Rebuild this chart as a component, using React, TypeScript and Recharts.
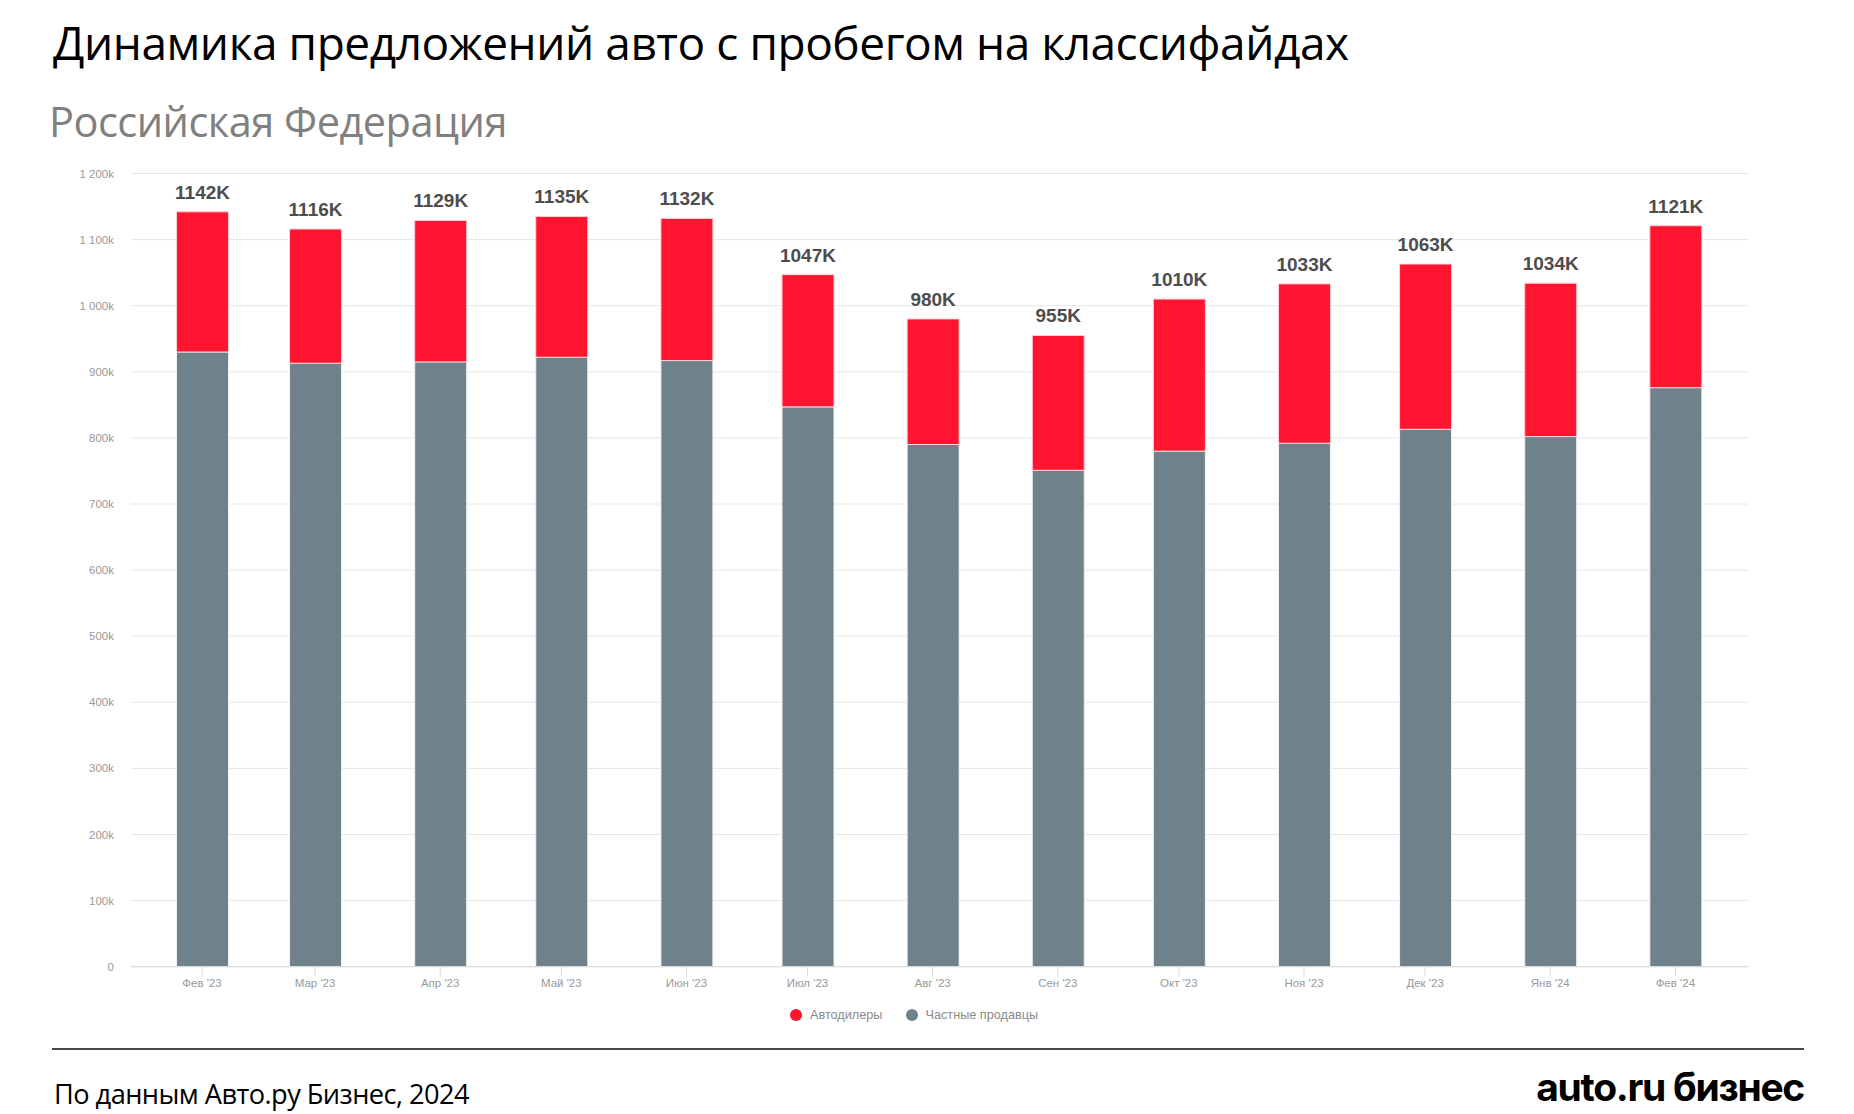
import React from 'react';
import { BarChart, Bar, XAxis, YAxis, CartesianGrid, LabelList } from 'recharts';

const months = ['2023-02-01', '2023-03-01', '2023-04-01', '2023-05-01', '2023-06-01', '2023-07-01', '2023-08-01', '2023-09-01', '2023-10-01', '2023-11-01', '2023-12-01', '2024-01-01', '2024-02-01'];
const monthLabels = ["Фев '23", "Мар '23", "Апр '23", "Май '23", "Июн '23", "Июл '23", "Авг '23", "Сен '23", "Окт '23", "Ноя '23", "Дек '23", "Янв '24", "Фев '24"];
// thousands of listings
const privateSellers = [930, 913, 915, 922, 917, 847, 790, 751, 780, 792, 813, 802, 876];
const dealers = [212, 203, 214, 213, 215, 200, 190, 204, 230, 241, 250, 232, 245];
const yTicks = [0, 100, 200, 300, 400, 500, 600, 700, 800, 900, 1000, 1100, 1200];

const seriesNames = { dealers: 'Автодилеры', private: 'Частные продавцы' };
const colors = { dealers: '#FF1530', private: '#6F818A' };

const DAY = 86400000;
const t0 = Date.parse(months[0]);
const data = months.map((m, i) => ({
  day: Math.round((Date.parse(m) - t0) / DAY),
  label: monthLabels[i],
  private: privateSellers[i],
  dealers: dealers[i],
  total: privateSellers[i] + dealers[i],
}));
const xTicks = data.map((d) => d.day);
const labelByDay: Record<number, string> = {};
data.forEach((d) => { labelByDay[d.day] = d.label; });

const fmtY = (v: number) => {
  if (v === 0) return '0';
  if (v >= 1000) return `${Math.floor(v / 1000)} ${String(v % 1000).padStart(3, '0')}k`;
  return `${v}k`;
};

const chartFont = '"Liberation Sans", Arial, sans-serif';

export default function App() {
  return (
    <div style={{ position: 'absolute', left: 0, top: 0, width: 1854, height: 1114, background: '#fff', overflow: 'hidden' }}>
      <div style={{ position: 'absolute', left: 53, top: 11, fontFamily: '"Open Sans", sans-serif', fontSize: 46, color: '#000', whiteSpace: 'nowrap', letterSpacing: -0.45 }}>
        Динамика предложений авто с пробегом на классифайдах
      </div>
      <div style={{ position: 'absolute', left: 49, top: 93, fontFamily: '"Open Sans", sans-serif', fontSize: 41.5, color: '#808080', whiteSpace: 'nowrap', letterSpacing: -0.5 }}>
        Российская Федерация
      </div>

      <div style={{ position: 'absolute', left: 0, top: 0 }}>
        <BarChart width={1854} height={1114} data={data} margin={{ top: 173.5, right: 106, bottom: 107.3, left: 0 }}>
          <CartesianGrid vertical={false} stroke="#e6e6e6" />
          <XAxis
            dataKey="day"
            type="number"
            scale="linear"
            domain={[-17.6, 383]}
            ticks={xTicks}
            tickFormatter={(v: number) => labelByDay[v] ?? ''}
            height={40}
            tickSize={10}
            tickMargin={2}
            axisLine={{ stroke: '#d8d8d8' }}
            tickLine={{ stroke: '#d8d8d8' }}
            tick={{ fill: '#999', fontSize: 11.5, fontFamily: chartFont }}
            interval={0}
            allowDataOverflow
          />
          <YAxis
            width={131}
            domain={[0, 1200]}
            ticks={yTicks}
            tickFormatter={fmtY}
            axisLine={false}
            tickLine={false}
            tickSize={0}
            tickMargin={17}
            tick={{ fill: '#999', fontSize: 11.5, fontFamily: chartFont }}
          />
          <Bar dataKey="private" stackId="a" fill={colors.private} stroke="#f2f2f2" strokeWidth={1} barSize={52} isAnimationActive={false} name={seriesNames.private} />
          <Bar dataKey="dealers" stackId="a" fill={colors.dealers} stroke="#ffd0d5" strokeWidth={1} barSize={52} isAnimationActive={false} name={seriesNames.dealers}>
            <LabelList
              dataKey="total"
              position="top"
              offset={13}
              formatter={(v: number) => `${v}K`}
              style={{ fill: '#4d4d4d', fontSize: 19, fontWeight: 700, fontFamily: chartFont }}
            />
          </Bar>
        </BarChart>
      </div>

      <div style={{ position: 'absolute', left: 790, top: 1008, display: 'flex', alignItems: 'center', fontFamily: chartFont, fontSize: 12.7, color: '#8a8a8a', whiteSpace: 'nowrap' }}>
        {(['dealers', 'private'] as const).map((k, i) => (
          <div key={k} style={{ display: 'flex', alignItems: 'center', marginRight: i === 0 ? 23 : 0 }}>
            <span style={{ display: 'inline-block', width: 12, height: 12, borderRadius: 6, background: colors[k], marginRight: 8 }} />
            <span>{seriesNames[k]}</span>
          </div>
        ))}
      </div>

      <div style={{ position: 'absolute', left: 52, top: 1048, width: 1752, height: 2, background: '#4a4a4a' }} />
      <div style={{ position: 'absolute', left: 54, top: 1075, fontFamily: '"Open Sans", sans-serif', fontSize: 27.2, color: '#000', whiteSpace: 'nowrap', letterSpacing: -0.55 }}>
        По данным Авто.ру Бизнес, 2024
      </div>
      <div style={{ position: 'absolute', right: 50, top: 1063, fontFamily: 'Inter, sans-serif', fontWeight: 700, fontSize: 39, color: '#000', whiteSpace: 'nowrap', letterSpacing: -1.3 }}>
        auto.ru бизнес
      </div>
    </div>
  );
}
